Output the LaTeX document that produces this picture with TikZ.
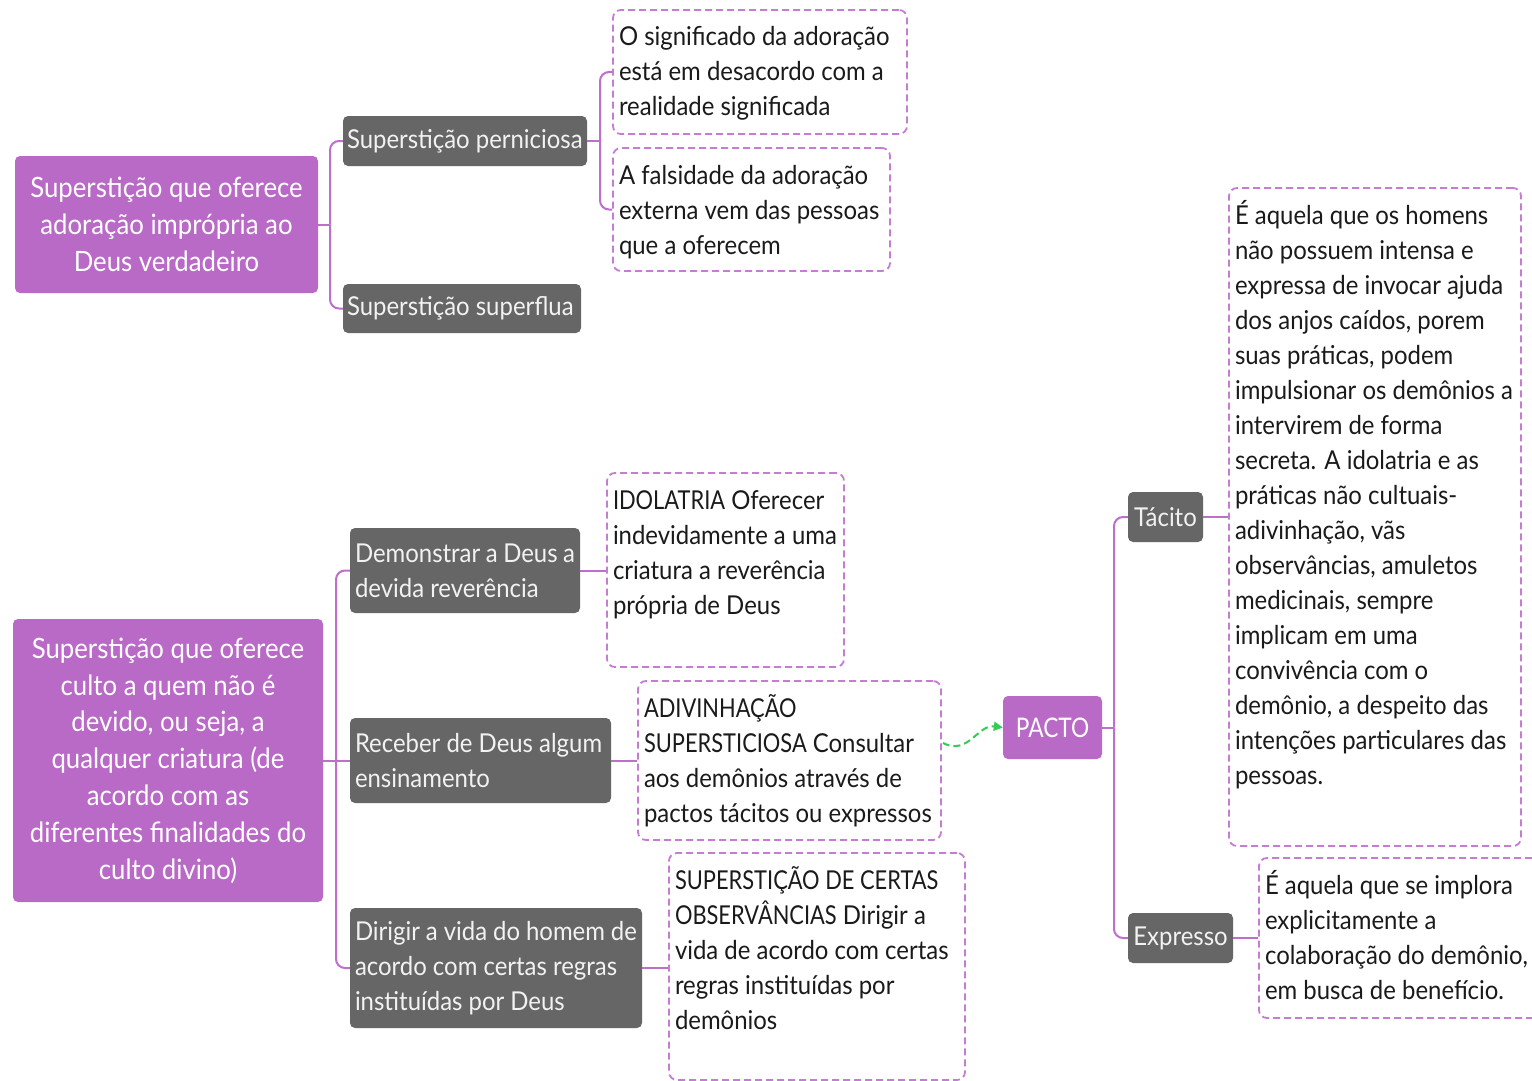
\documentclass[tikz,border=0pt]{standalone}
\usepackage{fontspec}
\setmainfont{Lato}[FakeStretch=0.92]
\usetikzlibrary{calc,arrows.meta}
\definecolor{purp}{HTML}{B96AC7}
\definecolor{dgray}{HTML}{666666}
\definecolor{dpurp}{HTML}{C57DD4}
\definecolor{lpurp}{HTML}{BD6FCC}
\definecolor{grn}{HTML}{33CC55}
\definecolor{txt}{HTML}{1A1A1A}
\newcommand{\bx}[3]{\parbox[c][#2pt][t]{#1pt}{\rule{0pt}{36pt}\makebox[0pt][l]{\begin{tabular}[t]{@{}l@{}}#3\end{tabular}}}}
\newcommand{\cp}[1]{{\addfontfeatures{FakeStretch=0.84}#1}}
\begin{document}
\begin{tikzpicture}[x=1pt,y=-1pt,
  every node/.style={font=\fontsize{26}{35}\selectfont},
  conn/.style={draw=lpurp, line width=2pt, rounded corners=9pt},
  rootbox/.style={fill=purp, rounded corners=5pt, text=white, align=flush center, inner sep=0pt,
    font=\fontsize{28}{36.8}\selectfont},
  graybox/.style={fill=dgray, rounded corners=5pt, text=white!95!black, align=flush left, inner sep=0pt},
  dashbox/.style={draw=dpurp, dash pattern=on 7pt off 4pt, line width=1.8pt, rounded corners=8pt, inner xsep=6pt, inner ysep=0pt, text=txt}
]
\useasboundingbox[fill=white] (0,0) rectangle (1532,1081);

% top section
\node[rootbox, minimum width=303pt, minimum height=137pt, text width=303pt] (root1) at (166.5,224.5)
  {Superstição que oferece\\adoração imprópria ao\\Deus verdadeiro};
\node[graybox, minimum width=244pt, minimum height=50pt, text width=236pt] (pern) at (465,141) {Superstição perniciosa};
\node[graybox, minimum width=238pt, minimum height=49pt, text width=230pt] (superf) at (462,308.5) {Superstição superflua};
\node[dashbox] (boxA) at (760,72) {\bx{282}{124}{O significado da adoração\\está em desacordo com a\\realidade significada}};
\node[dashbox] (boxB) at (751.5,209.5) {\bx{265}{123}{A falsidade da adoração\\externa vem das pessoas\\que a oferecem}};

\coordinate (j1) at (330,224.5);
\draw[conn] (root1.east) -- (j1);
\draw[conn] (j1) |- (pern.west);
\draw[conn] (j1) |- (superf.west);
\coordinate (j2) at (600,141);
\draw[conn] (pern.east) -- (j2);
\draw[conn] (j2) |- (boxA.west);
\draw[conn] (j2) |- (boxB.west);

% bottom-left section
\node[rootbox, minimum width=310pt, minimum height=283pt, text width=310pt] (root2) at (168,760.5)
  {Superstição que oferece\\culto a quem não é\\devido, ou seja, a\\qualquer criatura (de\\acordo com as\\diferentes finalidades do\\culto divino)};
\node[graybox, minimum width=230pt, minimum height=85pt, text width=220pt] (dem) at (465,570.5)
  {Demonstrar a Deus a\\devida reverência};
\node[graybox, minimum width=261pt, minimum height=85pt, text width=251pt] (rec) at (480.5,760.5)
  {Receber de Deus algum\\ensinamento};
\node[graybox, minimum width=292pt, minimum height=120pt, text width=282pt] (dir) at (496,968)
  {Dirigir a vida do homem de\\acordo com certas regras\\instituídas por Deus};
\node[dashbox] (idol) at (725.5,570) {\bx{225}{194}{\cp{IDOLATRIA} Oferecer\\indevidamente a uma\\criatura a reverência\\própria de Deus}};
\node[dashbox] (adiv) at (789.5,760.5) {\bx{291}{159}{\cp{ADIVINHAÇÃO}\\\cp{SUPERSTICIOSA} Consultar\\aos demônios através de\\pactos tácitos ou expressos}};
\node[dashbox] (sup) at (817,966.5) {\bx{284}{227}{\cp{SUPERSTIÇÃO DE CERTAS}\\\cp{OBSERVÂNCIAS} Dirigir a\\vida de acordo com certas\\regras instituídas por\\demônios}};

\coordinate (j3) at (336,760.5);
\draw[conn] (root2.east) -- (j3);
\draw[conn] (j3) |- (dem.west);
\draw[conn] (j3) |- (dir.west);
\draw[conn] (j3) -- (rec.west);
\draw[conn] (dem.east) -- (dem.east -| idol.west);
\draw[conn] (rec.east) -- (rec.east -| adiv.west);
\draw[conn] (dir.east) -- (dir.east -| sup.west);

% right section
\node[rootbox, minimum width=99pt, minimum height=63pt, font=\fontsize{27}{35}\selectfont] (pacto) at (1052.5,727.5) {\cp{PACTO}};
\node[graybox, minimum width=75pt, minimum height=50pt, align=center] (tacito) at (1165.5,517) {Tácito};
\node[graybox, minimum width=105pt, minimum height=50pt, align=center] (expr) at (1180.5,938) {Expresso};
\node[dashbox] (tbox) at (1375,517) {\bx{280}{658}{É aquela que os homens\\não possuem intensa e\\expressa de invocar ajuda\\dos anjos caídos, porem\\suas práticas, podem\\impulsionar os demônios a\\intervirem de forma\\secreta. A idolatria e as\\práticas não cultuais-\\adivinhação, vãs\\observâncias, amuletos\\medicinais, sempre\\implicam em uma\\convivência com o\\demônio, a despeito das\\intenções particulares das\\pessoas.}};
\node[dashbox] (ebox) at (1399.5,938) {\bx{269}{160}{É aquela que se implora\\explicitamente a\\colaboração do demônio,\\em busca de benefício.}};

\coordinate (j4) at (1114,727.5);
\draw[conn] (pacto.east) -- (j4);
\draw[conn] (j4) |- (tacito.west);
\draw[conn] (j4) |- (expr.west);
\draw[conn] (tacito.east) -- (tacito.east -| tbox.west);
\draw[conn] (expr.east) -- (expr.east -| ebox.west);

% green arrow
\coordinate (gs) at ($(adiv.east)+(1,-17.5)$);
\draw[draw=grn, line width=2pt, dash pattern=on 7pt off 4pt, -{Triangle[length=9pt,width=9pt]}]
  (gs) .. controls (968,756) and (978,724) .. (pacto.west);
\end{tikzpicture}
\end{document}
